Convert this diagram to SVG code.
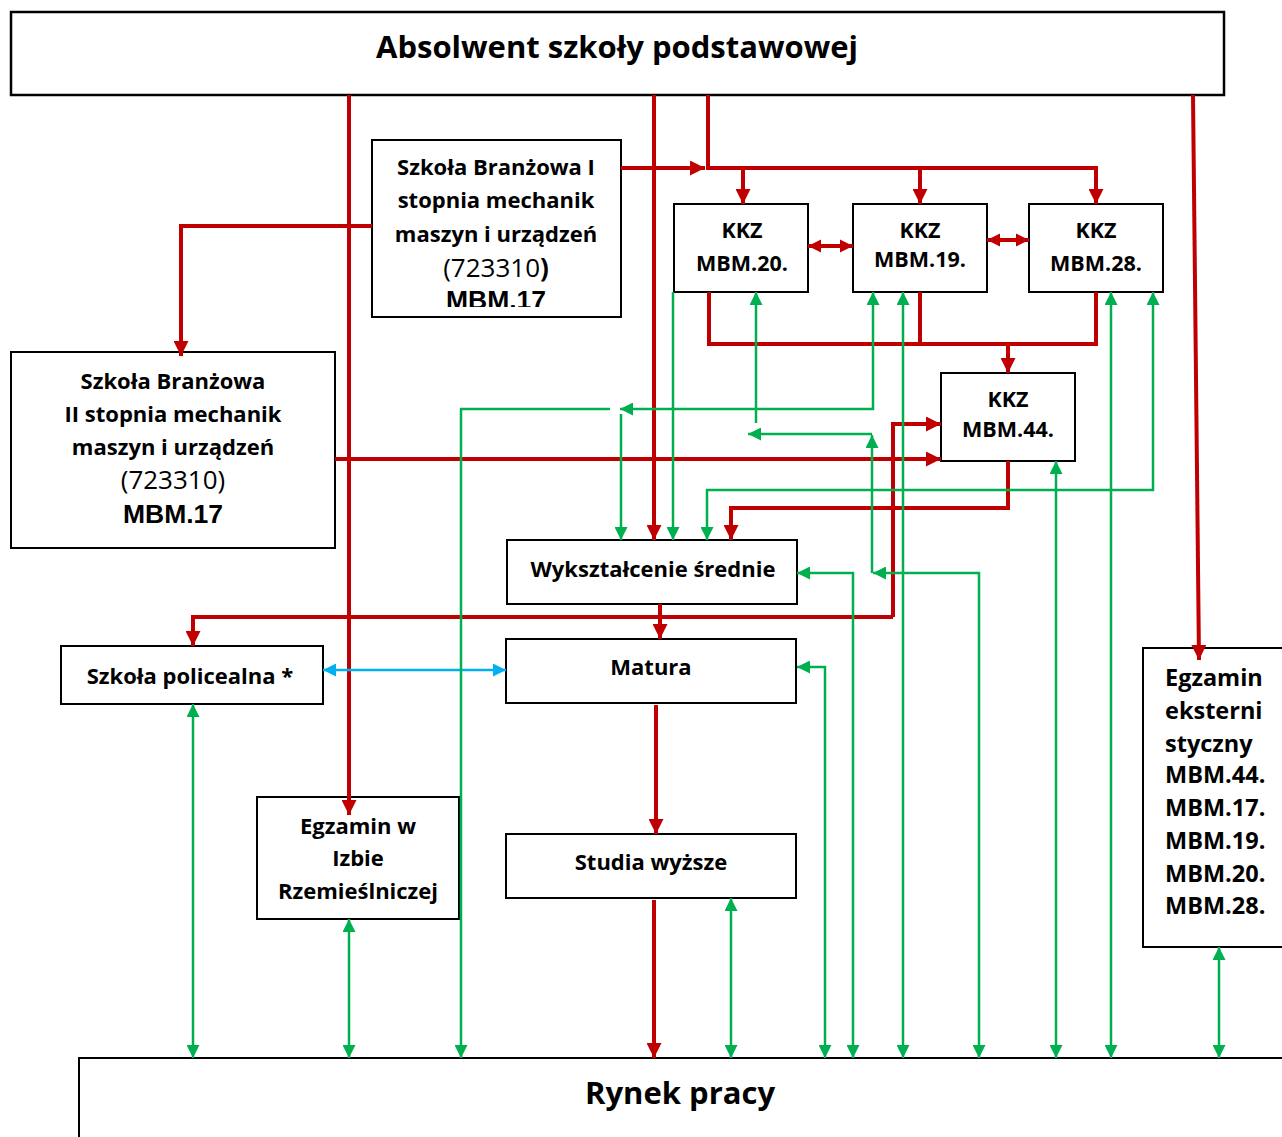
<svg xmlns="http://www.w3.org/2000/svg" width="1282" height="1137" viewBox="0 0 1282 1137">
<style>
.box{fill:#fff;stroke:#000;stroke-width:2}
.t{font-family:"Open Sans",Lato,sans-serif;font-weight:bold;fill:#000;text-anchor:middle}
.s22{font-size:22px}
.s21{font-size:21.5px}
.s23{font-size:23.5px}
.title{font-size:31px}
.reg{font-family:"Open Sans",Lato,sans-serif;font-weight:normal;font-size:26px;fill:#000;text-anchor:middle}
.ar{font-family:"Liberation Sans",Arial,sans-serif;font-weight:bold;font-size:26.5px;fill:#000;text-anchor:middle}
.lt{text-anchor:start}
.red{fill:none;stroke:#C00000;stroke-width:4}
.grn{fill:none;stroke:#00B050;stroke-width:2.5}
.blu{fill:none;stroke:#00B0F0;stroke-width:2.5}
</style>
<defs>
<marker id="ar" viewBox="0 0 10 10" refX="10" refY="5" markerWidth="15" markerHeight="15" markerUnits="userSpaceOnUse" orient="auto-start-reverse"><path d="M0,0 L10,5 L0,10 z" fill="#C00000"/></marker>
<marker id="ars" viewBox="0 0 10 10" refX="10" refY="5" markerWidth="13" markerHeight="14" markerUnits="userSpaceOnUse" orient="auto-start-reverse"><path d="M0,0 L10,5 L0,10 z" fill="#C00000"/></marker>
<marker id="ag" viewBox="0 0 10 10" refX="10" refY="5" markerWidth="14" markerHeight="13" markerUnits="userSpaceOnUse" orient="auto-start-reverse"><path d="M0,0 L10,5 L0,10 z" fill="#00B050"/></marker>
<marker id="ab" viewBox="0 0 10 10" refX="10" refY="5" markerWidth="14" markerHeight="13" markerUnits="userSpaceOnUse" orient="auto-start-reverse"><path d="M0,0 L10,5 L0,10 z" fill="#00B0F0"/></marker>
<clipPath id="clipB1"><rect x="372" y="140" width="249" height="167"/></clipPath>
</defs>

<g id="absolwent">
<rect class="box" x="11" y="12" width="1213" height="83" style="stroke-width:2.5"/>
<text class="t title" x="617" y="58">Absolwent szkoły podstawowej</text>
</g>

<g id="branzowa1">
<rect class="box" x="372" y="140" width="249" height="177"/>
<text class="t s22" x="496" y="175">Szkoła Branżowa I</text>
<text class="t s22" x="496" y="208">stopnia mechanik</text>
<text class="t s22" x="496" y="242">maszyn i urządzeń</text>
<text class="reg" x="496" y="277">(723310<tspan style="font-weight:bold">)</tspan></text>
<text class="ar" x="496" y="309" clip-path="url(#clipB1)">MBM.17</text>
</g>

<g id="branzowa2">
<rect class="box" x="11" y="352" width="324" height="196"/>
<text class="t s22" x="173" y="389">Szkoła Branżowa</text>
<text class="t s22" x="173" y="422">II stopnia mechanik</text>
<text class="t s22" x="173" y="455">maszyn i urządzeń</text>
<text class="reg" x="173" y="489">(723310)</text>
<text class="ar" x="173" y="523">MBM.17</text>
</g>

<g id="kkz20">
<rect class="box" x="674" y="204" width="134" height="88"/>
<text class="t s21" x="742" y="238">KKZ</text>
<text class="t s21" x="742" y="271">MBM.20.</text>
</g>
<g id="kkz19">
<rect class="box" x="853" y="204" width="134" height="88"/>
<text class="t s21" x="920" y="238">KKZ</text>
<text class="t s21" x="920" y="267">MBM.19.</text>
</g>
<g id="kkz28">
<rect class="box" x="1029" y="204" width="134" height="88"/>
<text class="t s21" x="1096" y="238">KKZ</text>
<text class="t s21" x="1096" y="271">MBM.28.</text>
</g>
<g id="kkz44">
<rect class="box" x="941" y="373" width="134" height="88"/>
<text class="t s21" x="1008" y="407">KKZ</text>
<text class="t s21" x="1008" y="437">MBM.44.</text>
</g>

<g id="wyksztalcenie">
<rect class="box" x="507" y="540" width="290" height="64"/>
<text class="t s22" x="653" y="577">Wykształcenie średnie</text>
</g>
<g id="matura">
<rect class="box" x="506" y="639" width="290" height="64"/>
<text class="t s22" x="651" y="675">Matura</text>
</g>
<g id="studia">
<rect class="box" x="506" y="834" width="290" height="64"/>
<text class="t s22" x="651" y="870">Studia wyższe</text>
</g>
<g id="policealna">
<rect class="box" x="61" y="646" width="262" height="58"/>
<text class="t s22" x="190" y="684">Szkoła policealna *</text>
</g>
<g id="izba">
<rect class="box" x="257" y="797" width="202" height="122"/>
<text class="t s22" x="358" y="834">Egzamin w</text>
<text class="t s22" x="358" y="866">Izbie</text>
<text class="t s22" x="358" y="899">Rzemieślniczej</text>
</g>
<g id="eksterni">
<rect class="box" x="1143" y="648" width="150" height="299"/>
<text class="t s23 lt" x="1165" y="686">Egzamin</text>
<text class="t s23 lt" x="1165" y="719">eksterni</text>
<text class="t s23 lt" x="1165" y="752">styczny</text>
<text class="t s23 lt" x="1165" y="783">MBM.44.</text>
<text class="t s23 lt" x="1165" y="816">MBM.17.</text>
<text class="t s23 lt" x="1165" y="849">MBM.19.</text>
<text class="t s23 lt" x="1165" y="882">MBM.20.</text>
<text class="t s23 lt" x="1165" y="914">MBM.28.</text>
</g>
<g id="rynek">
<rect class="box" x="79" y="1058" width="1215" height="95"/>
<text class="t" style="font-size:31px" x="680" y="1104">Rynek pracy</text>
</g>

<g id="connectors">
<path class="red" d="M349,95 V815" marker-end="url(#ar)"/>
<path class="red" d="M654,95 V540" marker-end="url(#ar)"/>
<path class="red" d="M708,95 V168 H1096 V204" marker-end="url(#ar)"/>
<path class="red" d="M743,168 V204" marker-end="url(#ar)"/>
<path class="red" d="M920,168 V204" marker-end="url(#ar)"/>
<path class="red" d="M621,168 H705" marker-end="url(#ar)"/>
<path class="red" d="M1193,95 L1199,660" marker-end="url(#ar)"/>
<path class="red" d="M372,226 H181 V356" marker-end="url(#ar)"/>
<path class="red" d="M335,459 H941" marker-end="url(#ar)"/>
<path class="red" d="M709,292 V344 H1096 V292"/>
<path class="red" d="M920,292 V344"/>
<path class="red" d="M1008,344 V373" marker-end="url(#ar)"/>
<path class="red" d="M1008,461 V508 H731 V540" marker-end="url(#ar)"/>
<path class="red" d="M660,604 V639" marker-end="url(#ar)"/>
<path class="red" d="M893,617 V424 H941" marker-end="url(#ar)"/>
<path class="red" d="M893,617 H193 V646" marker-end="url(#ar)"/>
<path class="red" d="M656,705 V834" marker-end="url(#ar)"/>
<path class="red" d="M654,900 V1058" marker-end="url(#ar)"/>
<path class="red" d="M808,246 H853" marker-start="url(#ars)" marker-end="url(#ars)"/>
<path class="red" d="M987,240 H1029" marker-start="url(#ars)" marker-end="url(#ars)"/>
<path class="blu" d="M323,670 H506" marker-start="url(#ab)" marker-end="url(#ab)"/>
<path class="grn" d="M193,704 V1058" marker-start="url(#ag)" marker-end="url(#ag)"/>
<path class="grn" d="M349,919 V1058" marker-start="url(#ag)" marker-end="url(#ag)"/>
<path class="grn" d="M610,409 H461 V1058" marker-end="url(#ag)"/>
<path class="grn" d="M873,292 V409 H620" marker-start="url(#ag)" marker-end="url(#ag)"/>
<path class="grn" d="M621,414 V540" marker-end="url(#ag)"/>
<path class="grn" d="M673,292 V540" marker-end="url(#ag)"/>
<path class="grn" d="M756,423 V292" marker-end="url(#ag)"/>
<path class="grn" d="M872,434 H748" marker-end="url(#ag)"/>
<path class="grn" d="M872,573 V435" marker-end="url(#ag)"/>
<path class="grn" d="M873,573 H979 V1058" marker-start="url(#ag)" marker-end="url(#ag)"/>
<path class="grn" d="M903,292 V1058" marker-start="url(#ag)" marker-end="url(#ag)"/>
<path class="grn" d="M1056,461 V1058" marker-start="url(#ag)" marker-end="url(#ag)"/>
<path class="grn" d="M1111,292 V1058" marker-start="url(#ag)" marker-end="url(#ag)"/>
<path class="grn" d="M1153,292 V490 H707 V540" marker-start="url(#ag)" marker-end="url(#ag)"/>
<path class="grn" d="M797,573 H853 V1058" marker-start="url(#ag)" marker-end="url(#ag)"/>
<path class="grn" d="M797,667 H825 V1058" marker-start="url(#ag)" marker-end="url(#ag)"/>
<path class="grn" d="M731,898 V1058" marker-start="url(#ag)" marker-end="url(#ag)"/>
<path class="grn" d="M1219,947 V1058" marker-start="url(#ag)" marker-end="url(#ag)"/>
</g>
</svg>
